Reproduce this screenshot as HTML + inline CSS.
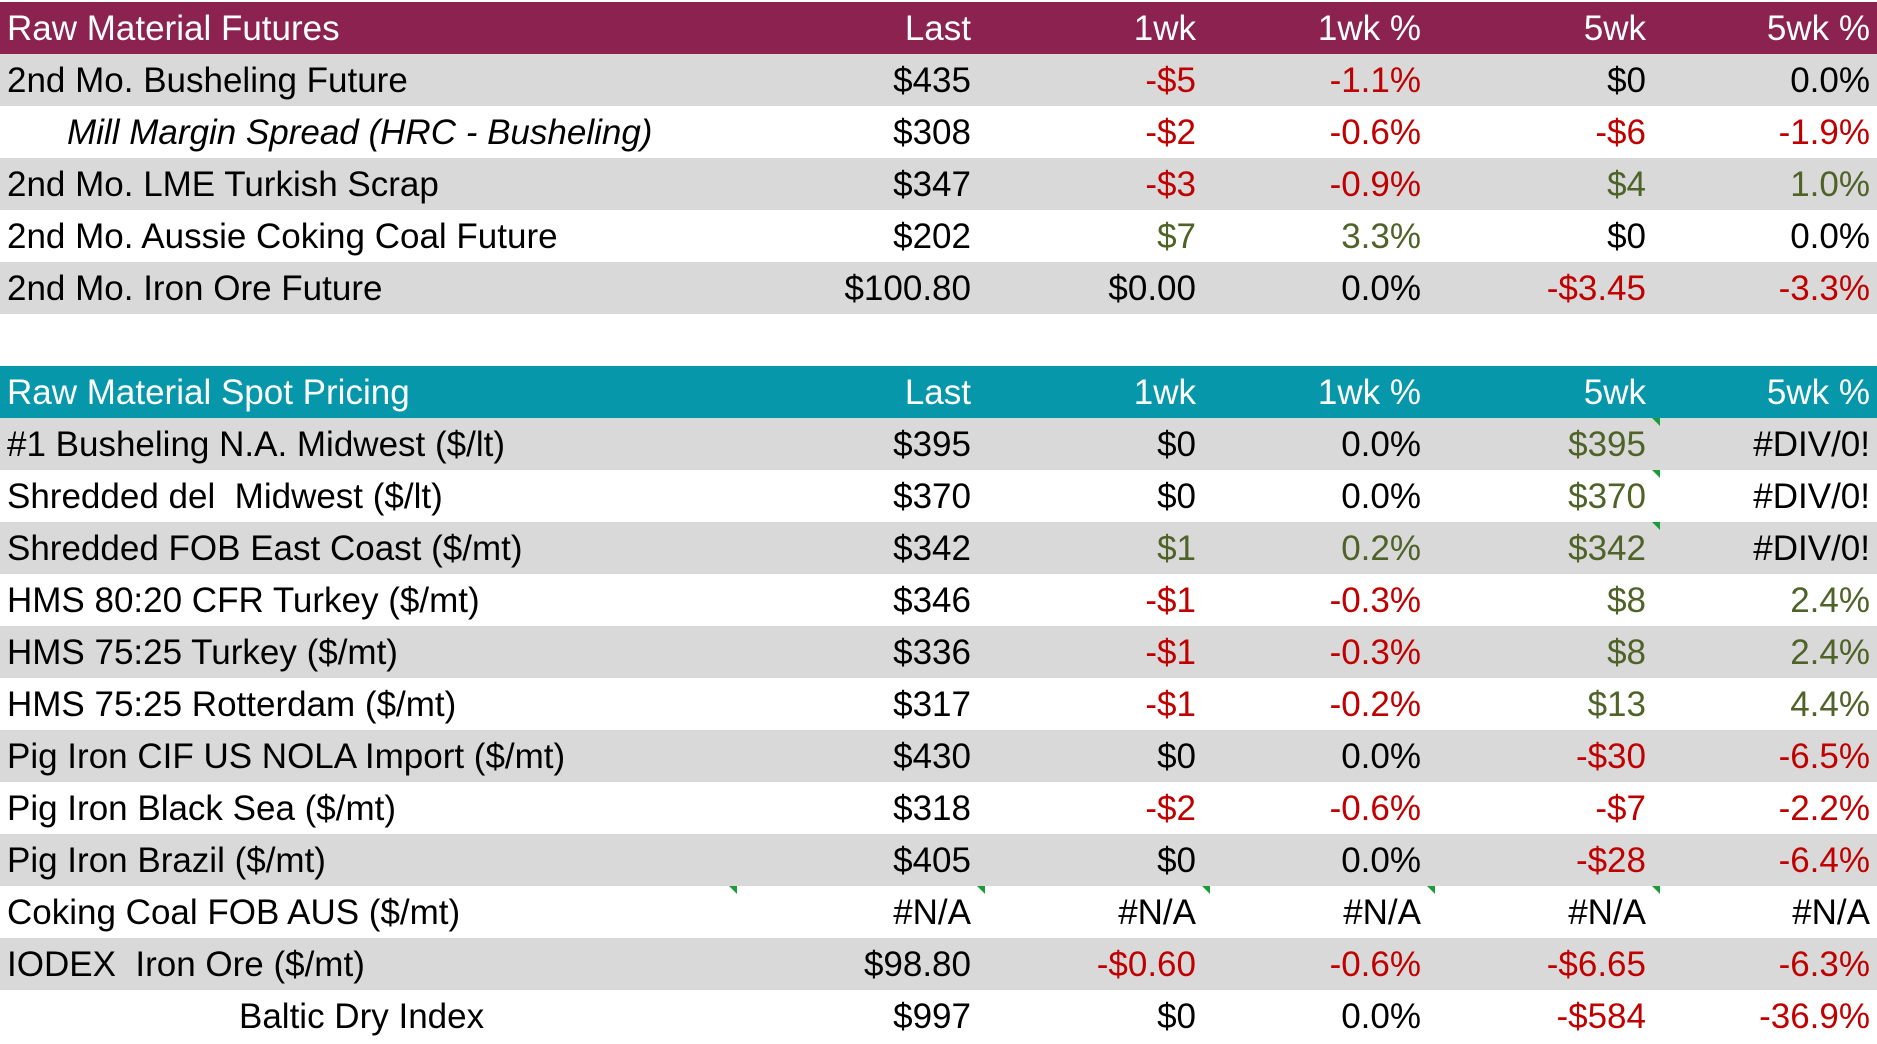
<!DOCTYPE html>
<html><head><style>
body{margin:0;width:1877px;height:1041px;background:#fff;overflow:hidden;font-family:"Liberation Sans",sans-serif;}
.r{position:absolute;left:0;width:1877px;height:52px;font-size:35px;line-height:54px;}
.r span{position:absolute;top:0;white-space:nowrap;}
.l{left:7px}
.c1,.c2,.c3,.c4,.c5{text-align:right;width:220px}
.c1{left:751px}.c2{left:976px}.c3{left:1201px}.c4{left:1426px}.c5{left:1650px}
.g{background:#d9d9d9}.h1{background:#8b2250;color:#fff}.h2{background:#0797ab;color:#fff}
.red{color:#c00000}.grn{color:#4f6228}
.t{position:absolute;width:0;height:0;border-top:8px solid #1a9c3a;border-left:8px solid transparent;}
</style></head><body>
<div class="r h1" style="top:2px"><span class="l">Raw Material Futures</span><span class="c1">Last</span><span class="c2">1wk</span><span class="c3">1wk %</span><span class="c4">5wk</span><span class="c5">5wk %</span></div>
<div class="r g" style="top:54px"><span class="l">2nd Mo. Busheling Future</span><span class="c1">$435</span><span class="c2 red">-$5</span><span class="c3 red">-1.1%</span><span class="c4">$0</span><span class="c5">0.0%</span></div>
<div class="r" style="top:106px"><span class="l" style="left:67px;font-style:italic">Mill Margin Spread (HRC - Busheling)</span><span class="c1">$308</span><span class="c2 red">-$2</span><span class="c3 red">-0.6%</span><span class="c4 red">-$6</span><span class="c5 red">-1.9%</span></div>
<div class="r g" style="top:158px"><span class="l">2nd Mo. LME Turkish Scrap</span><span class="c1">$347</span><span class="c2 red">-$3</span><span class="c3 red">-0.9%</span><span class="c4 grn">$4</span><span class="c5 grn">1.0%</span></div>
<div class="r" style="top:210px"><span class="l">2nd Mo. Aussie Coking Coal Future</span><span class="c1">$202</span><span class="c2 grn">$7</span><span class="c3 grn">3.3%</span><span class="c4">$0</span><span class="c5">0.0%</span></div>
<div class="r g" style="top:262px"><span class="l">2nd Mo. Iron Ore Future</span><span class="c1">$100.80</span><span class="c2">$0.00</span><span class="c3">0.0%</span><span class="c4 red">-$3.45</span><span class="c5 red">-3.3%</span></div>
<div class="r h2" style="top:366px"><span class="l">Raw Material Spot Pricing</span><span class="c1">Last</span><span class="c2">1wk</span><span class="c3">1wk %</span><span class="c4">5wk</span><span class="c5">5wk %</span></div>
<div class="r g" style="top:418px"><span class="l">#1 Busheling N.A. Midwest ($/lt)</span><span class="c1">$395</span><span class="c2">$0</span><span class="c3">0.0%</span><span class="c4 grn">$395</span><span class="c5">#DIV/0!</span><i class="t" style="left:1652px;top:0"></i></div>
<div class="r" style="top:470px"><span class="l">Shredded del &nbsp;Midwest ($/lt)</span><span class="c1">$370</span><span class="c2">$0</span><span class="c3">0.0%</span><span class="c4 grn">$370</span><span class="c5">#DIV/0!</span><i class="t" style="left:1652px;top:0"></i></div>
<div class="r g" style="top:522px"><span class="l">Shredded FOB East Coast ($/mt)</span><span class="c1">$342</span><span class="c2 grn">$1</span><span class="c3 grn">0.2%</span><span class="c4 grn">$342</span><span class="c5">#DIV/0!</span><i class="t" style="left:1652px;top:0"></i></div>
<div class="r" style="top:574px"><span class="l">HMS 80:20 CFR Turkey ($/mt)</span><span class="c1">$346</span><span class="c2 red">-$1</span><span class="c3 red">-0.3%</span><span class="c4 grn">$8</span><span class="c5 grn">2.4%</span></div>
<div class="r g" style="top:626px"><span class="l">HMS 75:25 Turkey ($/mt)</span><span class="c1">$336</span><span class="c2 red">-$1</span><span class="c3 red">-0.3%</span><span class="c4 grn">$8</span><span class="c5 grn">2.4%</span></div>
<div class="r" style="top:678px"><span class="l">HMS 75:25 Rotterdam ($/mt)</span><span class="c1">$317</span><span class="c2 red">-$1</span><span class="c3 red">-0.2%</span><span class="c4 grn">$13</span><span class="c5 grn">4.4%</span></div>
<div class="r g" style="top:730px"><span class="l">Pig Iron CIF US NOLA Import ($/mt)</span><span class="c1">$430</span><span class="c2">$0</span><span class="c3">0.0%</span><span class="c4 red">-$30</span><span class="c5 red">-6.5%</span></div>
<div class="r" style="top:782px"><span class="l">Pig Iron Black Sea ($/mt)</span><span class="c1">$318</span><span class="c2 red">-$2</span><span class="c3 red">-0.6%</span><span class="c4 red">-$7</span><span class="c5 red">-2.2%</span></div>
<div class="r g" style="top:834px"><span class="l">Pig Iron Brazil ($/mt)</span><span class="c1">$405</span><span class="c2">$0</span><span class="c3">0.0%</span><span class="c4 red">-$28</span><span class="c5 red">-6.4%</span></div>
<div class="r" style="top:886px"><span class="l">Coking Coal FOB AUS ($/mt)</span><span class="c1">#N/A</span><span class="c2">#N/A</span><span class="c3">#N/A</span><span class="c4">#N/A</span><span class="c5">#N/A</span><i class="t" style="left:729px;top:0"></i><i class="t" style="left:977px;top:0"></i><i class="t" style="left:1202px;top:0"></i><i class="t" style="left:1427px;top:0"></i><i class="t" style="left:1652px;top:0"></i></div>
<div class="r g" style="top:938px"><span class="l">IODEX &nbsp;Iron Ore ($/mt)</span><span class="c1">$98.80</span><span class="c2 red">-$0.60</span><span class="c3 red">-0.6%</span><span class="c4 red">-$6.65</span><span class="c5 red">-6.3%</span></div>
<div class="r" style="top:990px"><span class="l" style="left:239px">Baltic Dry Index</span><span class="c1">$997</span><span class="c2">$0</span><span class="c3">0.0%</span><span class="c4 red">-$584</span><span class="c5 red">-36.9%</span></div>
</body></html>
